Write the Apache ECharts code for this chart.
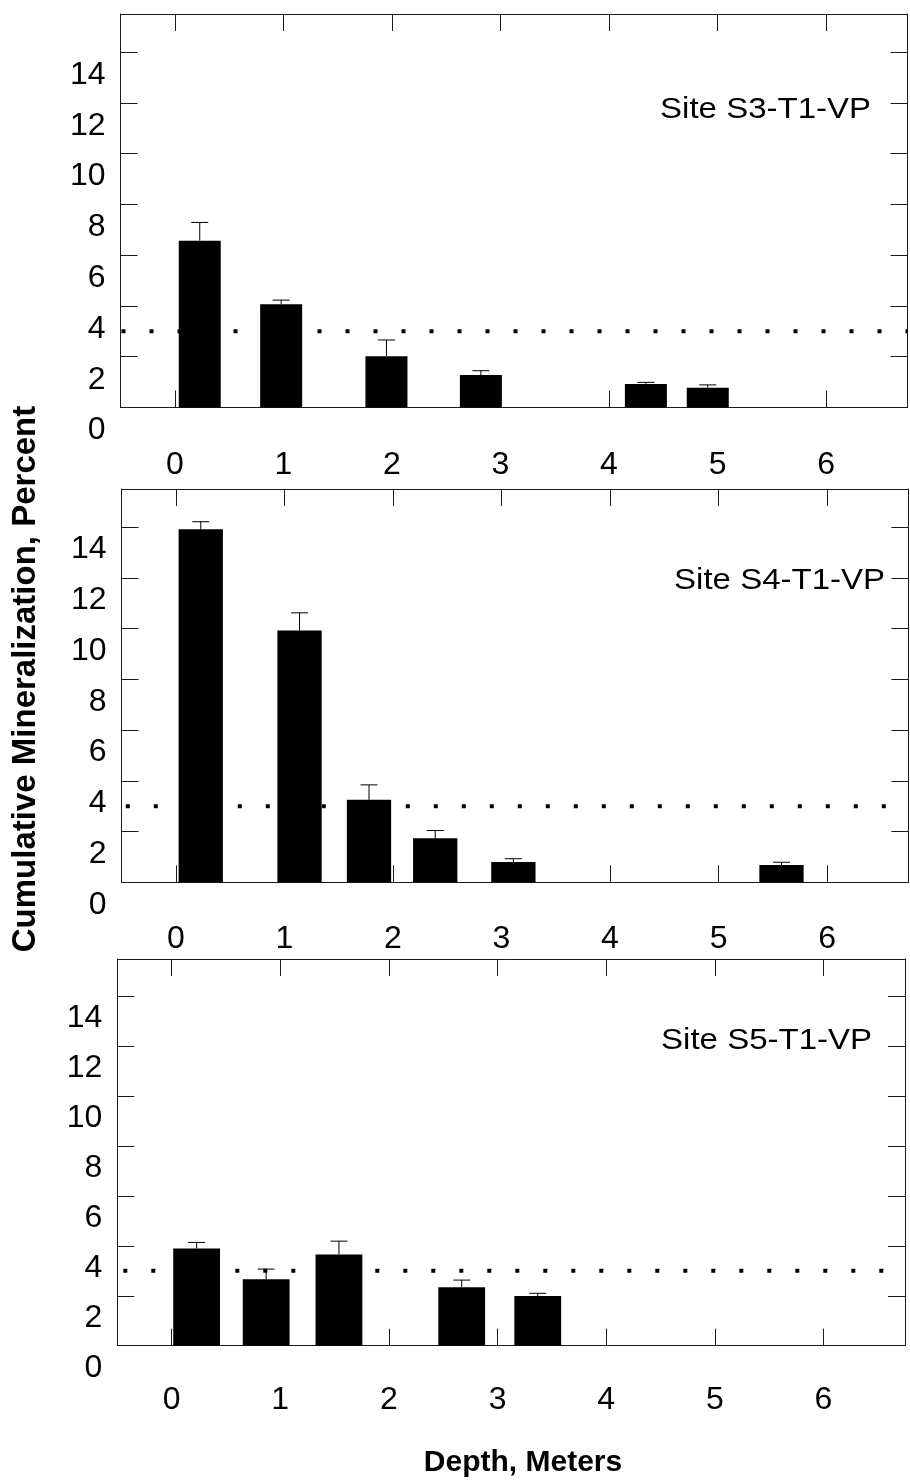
<!DOCTYPE html>
<html>
<head>
<meta charset="utf-8">
<script src="https://cdn.jsdelivr.net/npm/echarts@6/dist/echarts.min.js"></script>
<style>
html,body{margin:0;padding:0;background:#fff;}
#chart{width:910px;height:1483px;}
</style>
</head>
<body>
<div id="chart"></div>
<script>
// ---------------- data ----------------
const xTickLabels = [0, 1, 2, 3, 4, 5, 6];
const yTickLabels = [0, 2, 4, 6, 8, 10, 12, 14];
const siteNames = ['Site S3-T1-VP', 'Site S4-T1-VP', 'Site S5-T1-VP'];
const xTitle = 'Depth, Meters';
const yTitle = 'Cumulative Mineralization, Percent';

// Site S3-T1-VP
const s3Depth = [0.23, 0.98, 1.95, 2.82, 4.34, 4.91];
const s3Mean  = [6.57, 4.07, 2.02, 1.28, 0.93, 0.78];
const s3Err   = [0.72, 0.16, 0.64, 0.17, 0.06, 0.11];
// Site S4-T1-VP
const s4Depth = [0.23, 1.14, 1.78, 2.39, 3.11, 5.58];
const s4Mean  = [13.91, 9.92, 3.25, 1.74, 0.80, 0.68];
const s4Err   = [0.30, 0.70, 0.59, 0.30, 0.13, 0.11];
// Site S5-T1-VP
const s5Depth = [0.23, 0.87, 1.54, 2.67, 3.37];
const s5Mean  = [3.90, 2.66, 3.66, 2.34, 1.99];
const s5Err   = [0.24, 0.41, 0.53, 0.29, 0.11];

const thresholdValue = 3;

// ---------------- layout / style ----------------
const X_MIN = -0.5, X_MAX = 6.75, Y_MIN = 0, Y_MAX = 15.5;
const FRAME = '#1a1a1a';
const FONT = 'Liberation Sans';

const panels = [
  { depth: s3Depth, mean: s3Mean, err: s3Err, name: siteNames[0],
    grid: { left: 120.5, top: 14, width: 787, height: 393.5 },
    barW: 42, xMargin: 42, yShift: 23, dashOffset: 27, site: [871, 110] },
  { depth: s4Depth, mean: s4Mean, err: s4Err, name: siteNames[1],
    grid: { left: 121.5, top: 489, width: 787, height: 393.3 },
    barW: 44.3, xMargin: 40.5, yShift: 22.5, dashOffset: 23.7, site: [885, 581] },
  { depth: s5Depth, mean: s5Mean, err: s5Err, name: siteNames[2],
    grid: { left: 117.3, top: 959, width: 787.7, height: 386.7 },
    barW: 46.8, xMargin: 38.5, yShift: 22, dashOffset: 22, site: [872, 1041] }
];

const grids = [], xAxes = [], yAxes = [], series = [], graphics = [];

panels.forEach((p, i) => {
  grids.push(Object.assign({ containLabel: false, outerBoundsMode: 'none' }, p.grid));
  const lineStyle = { color: FRAME, width: 1 };
  const tickStyle = { color: FRAME, width: 1 };
  // bottom x axis with labels
  xAxes.push({
    type: 'value', gridIndex: i, position: 'bottom', min: X_MIN, max: X_MAX,
    axisLine: { show: true, onZero: false, lineStyle },
    axisTick: { show: true, inside: true, length: 17, lineStyle: tickStyle, customValues: xTickLabels },
    axisLabel: { show: true, customValues: xTickLabels, margin: p.xMargin, color: '#000',
                 fontSize: 32, fontFamily: FONT },
    splitLine: { show: false }
  });
  // top x axis (mirror ticks)
  xAxes.push({
    type: 'value', gridIndex: i, position: 'top', min: X_MIN, max: X_MAX,
    axisLine: { show: true, onZero: false, lineStyle },
    axisTick: { show: true, inside: true, length: 17, lineStyle: tickStyle, customValues: xTickLabels },
    axisLabel: { show: false },
    splitLine: { show: false }
  });
  // left y axis with labels (labels sit half a step below their ticks, as in the original)
  yAxes.push({
    type: 'value', gridIndex: i, position: 'left', min: Y_MIN, max: Y_MAX,
    axisLine: { show: true, onZero: false, lineStyle },
    axisTick: { show: true, inside: true, length: 17, lineStyle: tickStyle, customValues: yTickLabels },
    axisLabel: { show: true, customValues: yTickLabels, margin: 15, color: '#000',
                 fontSize: 32, fontFamily: FONT, verticalAlign: 'top', lineHeight: p.yShift * 2 },
    splitLine: { show: false }
  });
  // right y axis (mirror ticks)
  yAxes.push({
    type: 'value', gridIndex: i, position: 'right', min: Y_MIN, max: Y_MAX,
    axisLine: { show: true, onZero: false, lineStyle },
    axisTick: { show: true, inside: true, length: 17, lineStyle: tickStyle, customValues: yTickLabels },
    axisLabel: { show: false },
    splitLine: { show: false }
  });

  // threshold dotted line
  series.push({
    type: 'line', xAxisIndex: i * 2, yAxisIndex: i * 2, z: 1, silent: true,
    showSymbol: false, symbol: 'none', animation: false,
    data: [[X_MIN, thresholdValue], [X_MAX, thresholdValue]],
    lineStyle: { color: '#000', width: 4, type: [4, 24], dashOffset: p.dashOffset, cap: 'butt' }
  });

  // bars with upper error bars
  const rows = p.depth.map((d, k) => [d, p.mean[k], p.err[k]]);
  const barW = p.barW;
  series.push({
    type: 'custom', xAxisIndex: i * 2, yAxisIndex: i * 2, z: 3, silent: true, animation: false,
    data: rows,
    renderItem: function (params, api) {
      const x = api.value(0), v = api.value(1), e = api.value(2);
      const base = api.coord([x, Y_MIN]);
      const top = api.coord([x, v]);
      const cap = api.coord([x, v + e]);
      return {
        type: 'group',
        children: [
          { type: 'rect', shape: { x: top[0] - barW / 2, y: top[1], width: barW, height: base[1] - top[1] },
            style: { fill: '#000' } },
          { type: 'line', shape: { x1: top[0], y1: top[1], x2: top[0], y2: cap[1] },
            style: { stroke: '#000', lineWidth: 1 } },
          { type: 'line', shape: { x1: top[0] - 8.5, y1: cap[1], x2: top[0] + 8.5, y2: cap[1] },
            style: { stroke: '#000', lineWidth: 1 } }
        ]
      };
    }
  });

  graphics.push({
    type: 'text', x: p.site[0], y: p.site[1], scaleX: 1.1, silent: true,
    style: { text: p.name, fill: '#000', fontSize: 30, fontFamily: FONT,
             align: 'right', verticalAlign: 'middle' }
  });
});

graphics.push({
  type: 'text', x: 25.5, y: 679, rotation: Math.PI / 2, silent: true,
  style: { text: yTitle, fill: '#000', fontSize: 33, fontWeight: 'bold', fontFamily: FONT,
           align: 'center', verticalAlign: 'middle' }
});
graphics.push({
  type: 'text', x: 523, y: 1462.5, silent: true,
  style: { text: xTitle, fill: '#000', fontSize: 30, fontWeight: 'bold', fontFamily: FONT,
           align: 'center', verticalAlign: 'middle' }
});

const chart = echarts.init(document.getElementById('chart'), null, { renderer: 'canvas' });
chart.setOption({
  backgroundColor: '#fff',
  animation: false,
  grid: grids,
  xAxis: xAxes,
  yAxis: yAxes,
  series: series,
  graphic: graphics
});
</script>
</body>
</html>
